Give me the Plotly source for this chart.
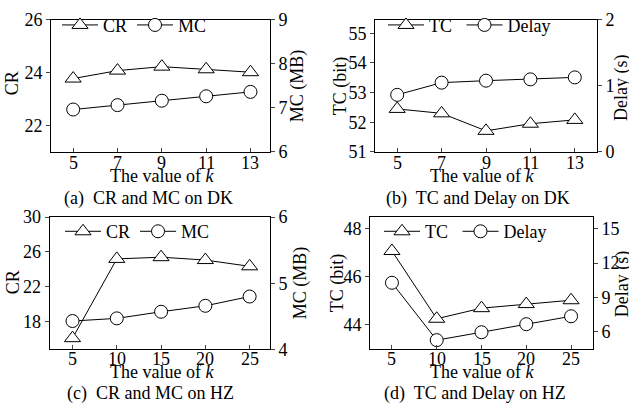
import plotly.graph_objects as go

# ---- data ----
k_dk = [5, 7, 9, 11, 13]
k_hz = [5, 10, 15, 20, 25]

cr_dk = [23.77, 24.07, 24.22, 24.12, 24.01]
mc_dk = [6.96, 7.06, 7.16, 7.26, 7.36]

tc_dk = [52.45, 52.30, 51.71, 51.95, 52.08]
delay_dk = [0.865, 1.05, 1.08, 1.10, 1.13]

cr_hz = [16.1, 25.2, 25.4, 25.07, 24.35]
mc_hz = [4.43, 4.47, 4.57, 4.66, 4.80]

tc_hz = [47.08, 44.26, 44.70, 44.87, 45.03]
delay_hz = [10.28, 5.28, 5.97, 6.67, 7.36]

W, H = 629, 419
FONT = "Liberation Serif"
FS = 18
PAD = "\u00a0"


def px(x):
    return x / W


def py(y):
    return 1 - y / H


fig = go.Figure()

def add_pair(xs, y1, y2, name1, name2, xa, ya1, ya2, leg):
    fig.add_trace(go.Scatter(
        x=xs, y=y1, name=name1, mode="lines+markers", xaxis=xa, yaxis=ya1,
        line=dict(color="black", width=1),
        marker=dict(symbol="triangle-up", size=14, color="white",
                    line=dict(color="black", width=1)),
        legend=leg))
    fig.add_trace(go.Scatter(
        x=xs, y=y2, name=name2, mode="lines+markers", xaxis=xa, yaxis=ya2,
        line=dict(color="black", width=1),
        marker=dict(symbol="circle", size=13, color="white",
                    line=dict(color="black", width=1)),
        legend=leg))

add_pair(k_dk, cr_dk, mc_dk, "CR", "MC", "x", "y", "y2", "legend")
add_pair(k_dk, tc_dk, delay_dk, "TC" + PAD, "Delay", "x2", "y3", "y4", "legend2")
add_pair(k_hz, cr_hz, mc_hz, "CR", "MC", "x3", "y5", "y6", "legend3")
add_pair(k_hz, tc_hz, delay_hz, "TC" + PAD, "Delay", "x4", "y7", "y8", "legend4")

tickfont = dict(family=FONT, size=FS, color="black")

def xax(dom, rng, vals, anchor):
    return dict(domain=dom, range=rng, tickvals=vals, ticks="inside", ticklen=4,
                showline=True, linecolor="black", linewidth=1, mirror=True,
                showgrid=False, zeroline=False, showticklabels=False,
                anchor=anchor)

def ylax(dom, rng, vals, anchor):
    return dict(domain=dom, range=rng, tickvals=vals, ticks="outside", ticklen=4,
                showline=True, linecolor="black", linewidth=1,
                showgrid=False, zeroline=False, tickfont=tickfont, anchor=anchor)

def yrax(rng, vals, anchor, over):
    return dict(range=rng, tickvals=vals, ticks="outside", ticklen=4,
                showline=True, linecolor="black", linewidth=1, side="right",
                overlaying=over, showgrid=False, zeroline=False,
                tickfont=tickfont, anchor=anchor)

# plot-area rectangles (pixels): left, right, top, bottom
A = (51, 270, 10, 149)
B = (375, 597, 10.5, 149)
C = (49.5, 270, 217.5, 356.5)
D = (370, 593, 217.5, 355.5)

def xd(r):
    return [px(r[0]), px(r[1])]

def yd(r):
    return [py(r[3]), py(r[2])]

fig.update_layout(
    xaxis=xax(xd(A), [4.0, 13.88], k_dk, "y"),
    yaxis=ylax(yd(A), [21, 26], [22, 24, 26], "x"),
    yaxis2=yrax([6, 9], [6, 7, 8, 9], "x", "y"),
    xaxis2=xax(xd(B), [4.0, 14.0], k_dk, "y3"),
    yaxis3=ylax(yd(B), [51, 55.45], [51, 52, 53, 54, 55], "x2"),
    yaxis4=yrax([0, 2], [0, 1, 2], "x2", "y3"),
    xaxis3=xax(xd(C), [2.4, 27.3], k_hz, "y5"),
    yaxis5=ylax(yd(C), [14.8, 30], [18, 22, 26, 30], "x3"),
    yaxis6=yrax([4, 6], [4, 5, 6], "x3", "y5"),
    xaxis4=xax(xd(D), [2.55, 27.45], k_hz, "y7"),
    yaxis7=ylax(yd(D), [43.02, 48.49], [44, 46, 48], "x4"),
    yaxis8=yrax([4.55, 16.0], [6, 9, 12, 15], "x4", "y7"),
)

def legend(x, y):
    return dict(x=px(x), y=py(y), xanchor="left", yanchor="middle",
                orientation="h", bgcolor="rgba(0,0,0,0)", borderwidth=0,
                font=dict(family=FONT, size=FS, color="black"),
                itemwidth=36, tracegroupgap=0)

fig.update_layout(
    legend=legend(57, 16),
    legend2=legend(383, 16),
    legend3=legend(60, 232.7),
    legend4=legend(379, 232.7),
)

ann = []

def text(x, y, s, angle=0, xref="paper"):
    ann.append(dict(x=(px(x) if xref == "paper" else x), y=py(y), xref=xref,
                    yref="paper", text=s,
                    showarrow=False, xanchor="center", yanchor="middle",
                    textangle=angle,
                    font=dict(family=FONT, size=FS, color="black")))

# x tick labels
for v in k_dk:
    text(v, 161, str(v), xref="x")
    text(v, 161, str(v), xref="x2")
for v in k_hz:
    text(v, 366, str(v), xref="x3")
    text(v, 366, str(v), xref="x4")

# axis titles
text(12, 77, "CR", -90)
text(297, 80, "MC (MB)", -90)
text(340, 80, "TC (bit)", -90)
text(621, 82, "Delay (s)", -90)
text(13, 286, "CR", -90)
text(300, 287, "MC (MB)", -90)
text(337, 287, "TC (bit)", -90)
text(622, 288, "Delay (s)", -90)

# x-axis titles
xl = "The value of <i>k</i>"
text(162, 174.5, xl)
text(481.5, 174.5, xl)
text(162, 380.5, xl)
text(481.5, 380.5, xl)

# captions
text(148, 198, "(a)  CR and MC on DK")
text(478, 198, "(b)  TC and Delay on DK")
text(150, 403, "(c)  CR and MC on HZ")
text(475, 403, "(d)  TC and Delay on HZ")

fig.update_layout(
    annotations=ann,
    width=W, height=H,
    margin=dict(l=0, r=0, t=0, b=0),
    paper_bgcolor="white", plot_bgcolor="white",
    font=dict(family=FONT, size=FS, color="black"),
)

fig.write_html("out.html")
